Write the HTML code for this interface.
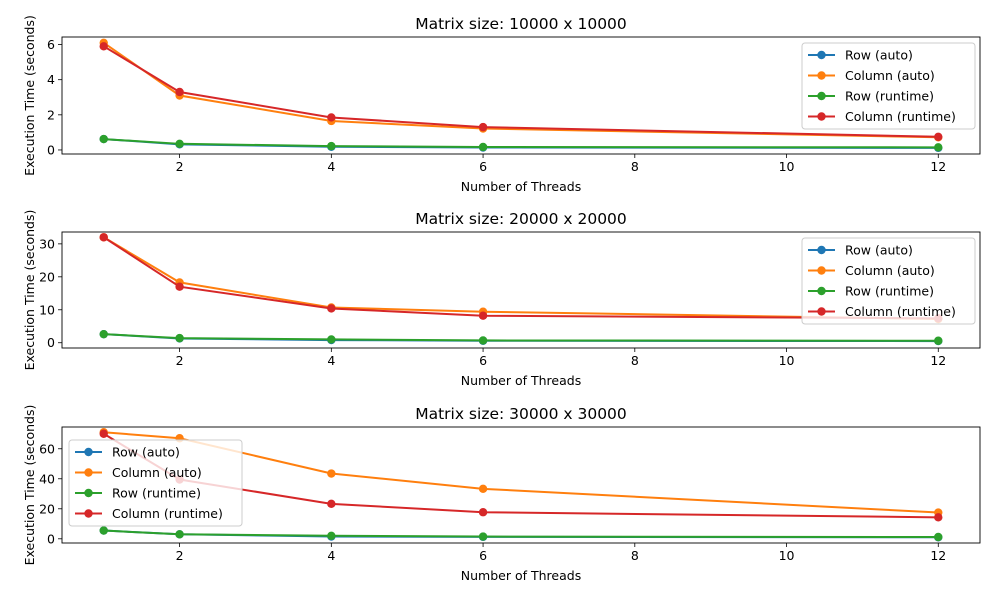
<!DOCTYPE html>
<html><head><meta charset="utf-8"><style>
body{margin:0;background:#fff;}
svg{font-family:"DejaVu Sans","Liberation Sans",sans-serif;}
</style></head><body>
<svg id="fig" width="1000" height="600" xmlns="http://www.w3.org/2000/svg"></svg>
<script>
const threads = [1, 2, 4, 6, 12];
const xTicks = [2, 4, 6, 8, 10, 12];
const seriesNames = ["Row (auto)", "Column (auto)", "Row (runtime)", "Column (runtime)"];
const colors = ["#1f77b4", "#ff7f0e", "#2ca02c", "#d62728"];
const titles = ["Matrix size: 10000 x 10000", "Matrix size: 20000 x 20000", "Matrix size: 30000 x 30000"];
const rowAuto10 = [0.62, 0.32, 0.18, 0.14, 0.12];
const colAuto10 = [6.1, 3.1, 1.65, 1.22, 0.72];
const rowRun10 = [0.62, 0.35, 0.22, 0.17, 0.15];
const colRun10 = [5.9, 3.3, 1.85, 1.3, 0.75];
const rowAuto20 = [2.6, 1.3, 0.8, 0.6, 0.5];
const colAuto20 = [32, 18.3, 10.7, 9.4, 7.2];
const rowRun20 = [2.6, 1.4, 1.0, 0.7, 0.6];
const colRun20 = [32, 17, 10.4, 8.2, 7.4];
const rowAuto30 = [5.5, 3.0, 1.5, 1.3, 1.0];
const colAuto30 = [71, 67, 43.5, 33.3, 17.5];
const rowRun30 = [5.5, 3.0, 2.0, 1.5, 1.2];
const colRun30 = [70, 39.5, 23.3, 17.7, 14.3];
const yTicks10 = [0, 2, 4, 6];
const yTicks20 = [0, 10, 20, 30];
const yTicks30 = [0, 20, 40, 60];

const panels = [
  {top:37, bottom:154, ymin:-0.23, ymax:6.43, ticks:yTicks10, data:[rowAuto10,colAuto10,rowRun10,colRun10], leg:{x:802,y:43}},
  {top:232, bottom:348, ymin:-1.6, ymax:33.6, ticks:yTicks20, data:[rowAuto20,colAuto20,rowRun20,colRun20], leg:{x:802,y:238}},
  {top:427, bottom:543, ymin:-2.8, ymax:74.5, ticks:yTicks30, data:[rowAuto30,colAuto30,rowRun30,colRun30], leg:{x:69,y:440}}
];
const L=62, R=980, XMIN=0.45, XMAX=12.55;
const NS="http://www.w3.org/2000/svg";
const fig=document.getElementById('fig');
function mk(tag, attrs, parent){const e=document.createElementNS(NS,tag);for(const k in attrs)e.setAttribute(k,attrs[k]);(parent||fig).appendChild(e);return e;}
const xs=v=>L+(v-XMIN)/(XMAX-XMIN)*(R-L);

panels.forEach((p,pi)=>{
  const g=mk('g',{});
  
  
  const ys=v=>p.bottom-(v-p.ymin)/(p.ymax-p.ymin)*(p.bottom-p.top);
  const t=mk('text',{x:(L+R)/2,y:p.top-8,'text-anchor':'middle','font-size':'15.5'},g);
  t.textContent=titles[pi];
  
  
  xTicks.forEach(v=>{
    mk('line',{x1:xs(v),x2:xs(v),y1:p.bottom,y2:p.bottom+4,stroke:'#000','stroke-width':0.8},g);
    const tx=mk('text',{x:xs(v),y:p.bottom+17,'text-anchor':'middle','font-size':'12.5'},g);
    tx.textContent=v;
    
    
  });
  p.ticks.forEach(v=>{
    mk('line',{x1:L-4,x2:L,y1:ys(v),y2:ys(v),stroke:'#000','stroke-width':0.8},g);
    const ty=mk('text',{x:L-7,y:ys(v)+4.5,'text-anchor':'end','font-size':'12.5'},g);
    ty.textContent=v;
    
    
  });
  const xl=mk('text',{x:(L+R)/2,y:p.bottom+37,'text-anchor':'middle','font-size':'12.5'},g);
  xl.textContent='Number of Threads';
  
  
  const yl=mk('text',{x:0,y:0,'text-anchor':'middle','font-size':'12.5',transform:`translate(34,${(p.top+p.bottom)/2}) rotate(-90)`},g);
  yl.textContent='Execution Time (seconds)';
  
  
  p.data.forEach((arr,si)=>{
    const pts=arr.map((v,i)=>xs(threads[i])+','+ys(v)).join(' ');
    const pl=mk('polyline',{points:pts,fill:'none',stroke:colors[si],'stroke-width':2},g);
    
    
    arr.forEach((v,i)=>{
      const c=mk('circle',{cx:xs(threads[i]),cy:ys(v),r:4.2,fill:colors[si]},g);
      
      
    });
  });
  const fr=mk('rect',{x:L,y:p.top,width:R-L,height:p.bottom-p.top,fill:'none',stroke:'#000','stroke-width':0.9},g);
  
  
  const lg=mk('g',{},g);
  
  
  mk('rect',{x:p.leg.x,y:p.leg.y,width:173,height:86,rx:3,fill:'#fff','fill-opacity':0.8,stroke:'#ccc','stroke-width':1},lg);
  seriesNames.forEach((n,si)=>{
    const yy=p.leg.y+12+si*20.5;
    const e=mk('g',{},lg);
    
    
    mk('line',{x1:p.leg.x+6,x2:p.leg.x+33,y1:yy,y2:yy,stroke:colors[si],'stroke-width':2},e);
    mk('circle',{cx:p.leg.x+19.5,cy:yy,r:4.2,fill:colors[si]},e);
    const lt=mk('text',{x:p.leg.x+43,y:yy+4.5,'font-size':'12.5'},e);
    lt.textContent=n;
  });
});
</script>
</body></html>
